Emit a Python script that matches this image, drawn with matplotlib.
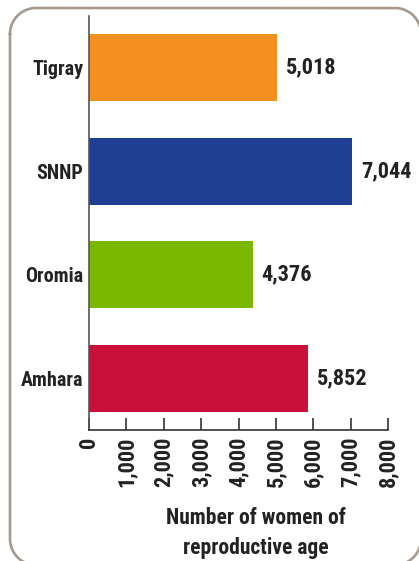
import matplotlib
matplotlib.use("Agg")
import numpy as np
import matplotlib.pyplot as plt
from matplotlib.lines import Line2D
from matplotlib import font_manager

regions = ["Amhara", "Oromia", "SNNP", "Tigray"]
values = [5852, 4376, 7044, 5018]
colors = ["#C8103A", "#7AB800", "#1F3F94", "#F39020"]
xticks = [0, 1000, 2000, 3000, 4000, 5000, 6000, 7000, 8000]
xlabel = "Number of women of\nreproductive age"

names = {f.name for f in font_manager.fontManager.ttflist}
fam = "DejaVu Sans"
for cand in ["Roboto Condensed", "Archivo Narrow", "PT Sans Narrow",
             "Barlow Semi Condensed", "Liberation Sans Narrow", "Open Sans Condensed"]:
    if cand in names:
        fam = cand
        break
plt.rcParams["font.family"] = [fam, "DejaVu Sans"]
WT = 800
plt.rcParams["font.weight"] = WT
txt = "#222222"

W, H = 419, 561
fig = plt.figure(figsize=(W / 100, H / 100), dpi=100)
fig.patch.set_facecolor("white")

# rounded border, built in pixel space (y downwards) then mapped to figure fractions
L, T, R, B, r = 10, 8, 421, 565, 26
corners = [((L + r, T + r), 180, 90), ((R - r, T + r), 90, 0),
           ((R - r, B - r), 0, -90), ((L + r, B - r), -90, -180)]
px, py = [], []
for (cx, cy), a0, a1 in corners:
    a = np.radians(np.linspace(a0, a1, 40))
    px.extend(cx + r * np.cos(a))
    py.extend(cy - r * np.sin(a))
px.append(px[0])
py.append(py[0])
fx = np.array(px) / W
fy = 1 - np.array(py) / H
fig.add_artist(Line2D(fx, fy, color="#A69A8E", lw=1.9, transform=fig.transFigure,
                      clip_on=False, solid_joinstyle="round"))

ax = fig.add_axes([89 / W, 1 - 430 / H, (388 - 89) / W, (430 - 16) / H])
ax.set_facecolor("none")
y = range(len(regions))
ax.barh(list(y), values, height=0.65, color=colors)
for yi, v in zip(y, values):
    ax.text(v + 240, yi, f"{v:,}", va="center", ha="left", fontsize=16,
            fontweight=WT, color=txt)

ax.set_xlim(0, 8000)
ax.set_ylim(-0.5, 3.5)
ax.set_yticks(list(y))
ax.set_yticklabels(regions, fontsize=14.5, fontweight=WT, color=txt)
ax.tick_params(axis="y", length=0, pad=4)
ax.set_xticks(xticks)
ax.set_xticklabels([f"{t:,}" for t in xticks], rotation=90, fontsize=16,
                   fontweight=WT, color=txt)
ax.tick_params(axis="x", direction="in", length=9, width=1.2, color="#333333", pad=5)
for s in ["top", "right"]:
    ax.spines[s].set_visible(False)
ax.spines["left"].set_color("#555555")
ax.spines["left"].set_linewidth(1.2)
ax.spines["bottom"].set_color("#333333")
ax.spines["bottom"].set_linewidth(1.2)

fig.text(256 / W, 1 - 533 / H, xlabel, ha="center", va="center", fontsize=15.5,
         fontweight=WT, color=txt, linespacing=1.5)

fig.savefig("out.png", dpi=100)
